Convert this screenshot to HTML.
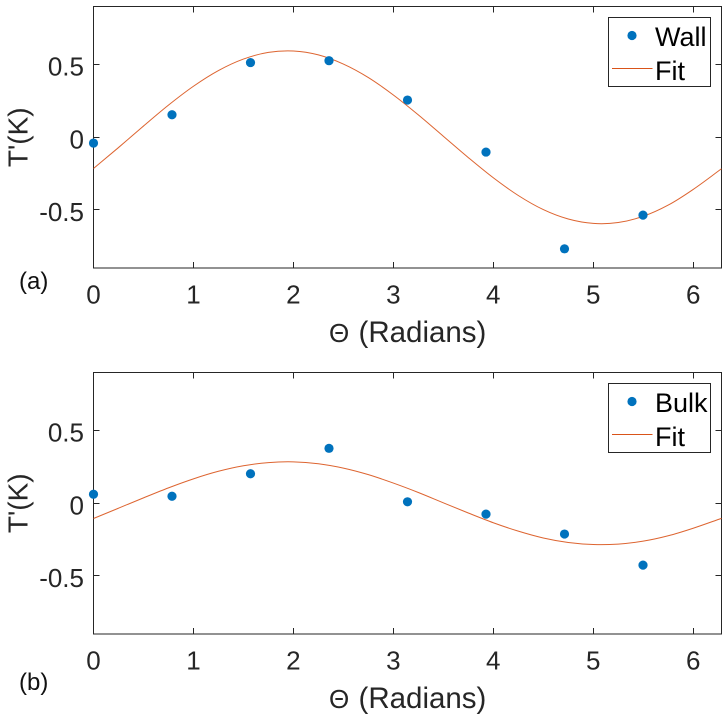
<!DOCTYPE html>
<html lang="en">
<head>
<meta charset="utf-8">
<title>Wall and Bulk temperature fluctuation fits</title>
<style>
  html, body { margin: 0; padding: 0; background: #fff; width: 728px; height: 720px; overflow: hidden; }
  svg { display: block; font-family: "Liberation Sans", "DejaVu Sans", sans-serif; }
</style>
</head>
<body>
<svg id="chart" xmlns="http://www.w3.org/2000/svg" width="728" height="720" viewBox="0 0 728 720"></svg>
<script>
const xTicks = [0, 1, 2, 3, 4, 5, 6];
const yTicks = [-0.5, 0, 0.5];
const yTickLabels = ['-0.5', '0', '0.5'];
const xDomain = [0, 6.2832];
const yDomain = [-0.9, 0.9];

const sampleTheta = [0, 0.7854, 1.5708, 2.3562, 3.1416, 3.927, 4.7124, 5.4978];
const wallValues = [-0.040, 0.155, 0.514, 0.527, 0.256, -0.102, -0.768, -0.536];
const bulkValues = [0.062, 0.048, 0.203, 0.378, 0.010, -0.075, -0.212, -0.426];

const fitTheta = [0, 0.25, 0.5, 0.75, 1, 1.25, 1.5, 1.75, 2, 2.25, 2.5, 2.75, 3, 3.25, 3.5, 3.75, 4, 4.25, 4.5, 4.75, 5, 5.25, 5.5, 5.75, 6, 6.2832];
const wallFit = [-0.215, -0.071, 0.077, 0.221, 0.351, 0.459, 0.538, 0.584, 0.594, 0.567, 0.504, 0.411, 0.291, 0.154, 0.007, -0.140, -0.279, -0.401, -0.498, -0.563, -0.593, -0.587, -0.544, -0.467, -0.359, -0.217];
const bulkFit = [-0.105, -0.034, 0.037, 0.106, 0.168, 0.220, 0.258, 0.280, 0.285, 0.272, 0.242, 0.197, 0.139, 0.074, 0.003, -0.067, -0.134, -0.192, -0.239, -0.270, -0.284, -0.281, -0.261, -0.224, -0.172, -0.104];

const svg = document.getElementById('chart');
const NS = 'http://www.w3.org/2000/svg';
const AXIS = '#262626';
const BLUE = '#0072BD';
const ORANGE = '#D95319';

function make(parent, tag, attrs, text) {
  const el = document.createElementNS(NS, tag);
  for (const k in attrs) el.setAttribute(k, attrs[k]);
  if (text !== undefined) el.textContent = text;
  parent.appendChild(el);
  return el;
}

function drawPanel(cfg) {
  const left = 93.5, right = 721.5, top = cfg.top, bottom = cfg.bottom;
  const xScale = v => left + (v - xDomain[0]) / (xDomain[1] - xDomain[0]) * (right - left);
  const yScale = v => bottom - (v - yDomain[0]) / (yDomain[1] - yDomain[0]) * (bottom - top);

  const panel = make(svg, 'g', {});
  
  

  const frame = make(panel, 'rect', { x: left, y: top, width: right - left, height: bottom - top, fill: '#fff', stroke: AXIS, 'stroke-width': 1 });
  
  

  xTicks.forEach(function (t) {
    const x = xScale(t);
    const snapped = Math.round(x - 0.5) + 0.5;
    const tickB = make(panel, 'line', { x1: snapped, x2: snapped, y1: bottom, y2: bottom - 6, stroke: AXIS, 'stroke-width': 1 });
    
    
    const tickT = make(panel, 'line', { x1: snapped, x2: snapped, y1: top, y2: top + 6, stroke: AXIS, 'stroke-width': 1 });
    
    
    const label = make(panel, 'text', { x: x, y: bottom + 35.5, 'text-anchor': 'middle', 'font-size': 26, fill: AXIS }, String(t));
    
    
  });

  yTicks.forEach(function (t, i) {
    const y = yScale(t);
    const snapped = Math.round(y - 0.5) + 0.5;
    const tickL = make(panel, 'line', { x1: left, x2: left + 6, y1: snapped, y2: snapped, stroke: AXIS, 'stroke-width': 1 });
    
    
    const tickR = make(panel, 'line', { x1: right, x2: right - 6, y1: snapped, y2: snapped, stroke: AXIS, 'stroke-width': 1 });
    
    
    const label = make(panel, 'text', { x: 84, y: y + 11, 'text-anchor': 'end', 'font-size': 26, fill: AXIS }, yTickLabels[i]);
    
    
  });

  const px = fitTheta.map(xScale);
  const py = cfg.fit.map(yScale);
  const slope = px.map(function (_, i) {
    const a = Math.max(0, i - 1), b = Math.min(px.length - 1, i + 1);
    return (py[b] - py[a]) / (px[b] - px[a]);
  });
  let d = 'M' + px[0].toFixed(2) + ' ' + py[0].toFixed(2);
  for (let i = 1; i < px.length; i++) {
    const h = (px[i] - px[i - 1]) / 3;
    d += ' C' + (px[i - 1] + h).toFixed(2) + ' ' + (py[i - 1] + slope[i - 1] * h).toFixed(2) +
         ' ' + (px[i] - h).toFixed(2) + ' ' + (py[i] - slope[i] * h).toFixed(2) +
         ' ' + px[i].toFixed(2) + ' ' + py[i].toFixed(2);
  }
  const fitLine = make(panel, 'path', { d: d, fill: 'none', stroke: ORANGE, 'stroke-width': 1, 'stroke-opacity': 0.9 });
  
  

  sampleTheta.forEach(function (t, i) {
    const dot = make(panel, 'circle', { cx: xScale(t), cy: yScale(cfg.values[i]), r: 4.6, fill: BLUE });
    
    
  });

  const ylabel = make(panel, 'text', { transform: 'translate(27.5 ' + ((top + bottom) / 2) + ') rotate(-90)', 'text-anchor': 'middle', 'font-size': 28, fill: AXIS }, "T'(K)");
  
  

  const xlabel = make(panel, 'text', { y: bottom + 74, 'font-size': 29.5, fill: AXIS });
  
  
  make(xlabel, 'tspan', { x: 329, 'font-size': 26 }, 'Θ');
  make(xlabel, 'tspan', { x: 358.5 }, '(Radians)');

  const tag = make(panel, 'text', { x: 19, y: cfg.tagY, 'font-size': 24, fill: '#111' }, cfg.tag);
  
  

  const legend = make(panel, 'g', {});
  
  
  const ly = cfg.legendTop;
  const box = make(legend, 'rect', { x: 608.5, y: ly, width: 102, height: 69, fill: '#fff', stroke: AXIS, 'stroke-width': 1 });
  
  
  const lm = make(legend, 'circle', { cx: 632, cy: ly + 18, r: 4.6, fill: BLUE });
  
  
  const lt1 = make(legend, 'text', { x: 655, y: ly + 28.5, 'font-size': 27, fill: '#000' }, cfg.seriesName);
  
  
  const ll = make(legend, 'line', { x1: 612, x2: 652.5, y1: ly + 51, y2: ly + 51, stroke: ORANGE, 'stroke-width': 1 });
  
  
  const lt2 = make(legend, 'text', { x: 655, y: ly + 62.5, 'font-size': 27, fill: '#000' }, 'Fit');
  
  
}

drawPanel({ name: 'wall', top: 6.5, bottom: 268, values: wallValues, fit: wallFit, tag: '(a)', tagY: 289, seriesName: 'Wall', legendTop: 17.5 });
drawPanel({ name: 'bulk', top: 372.5, bottom: 634, values: bulkValues, fit: bulkFit, tag: '(b)', tagY: 690, seriesName: 'Bulk', legendTop: 383.5 });
</script>
</body>
</html>
